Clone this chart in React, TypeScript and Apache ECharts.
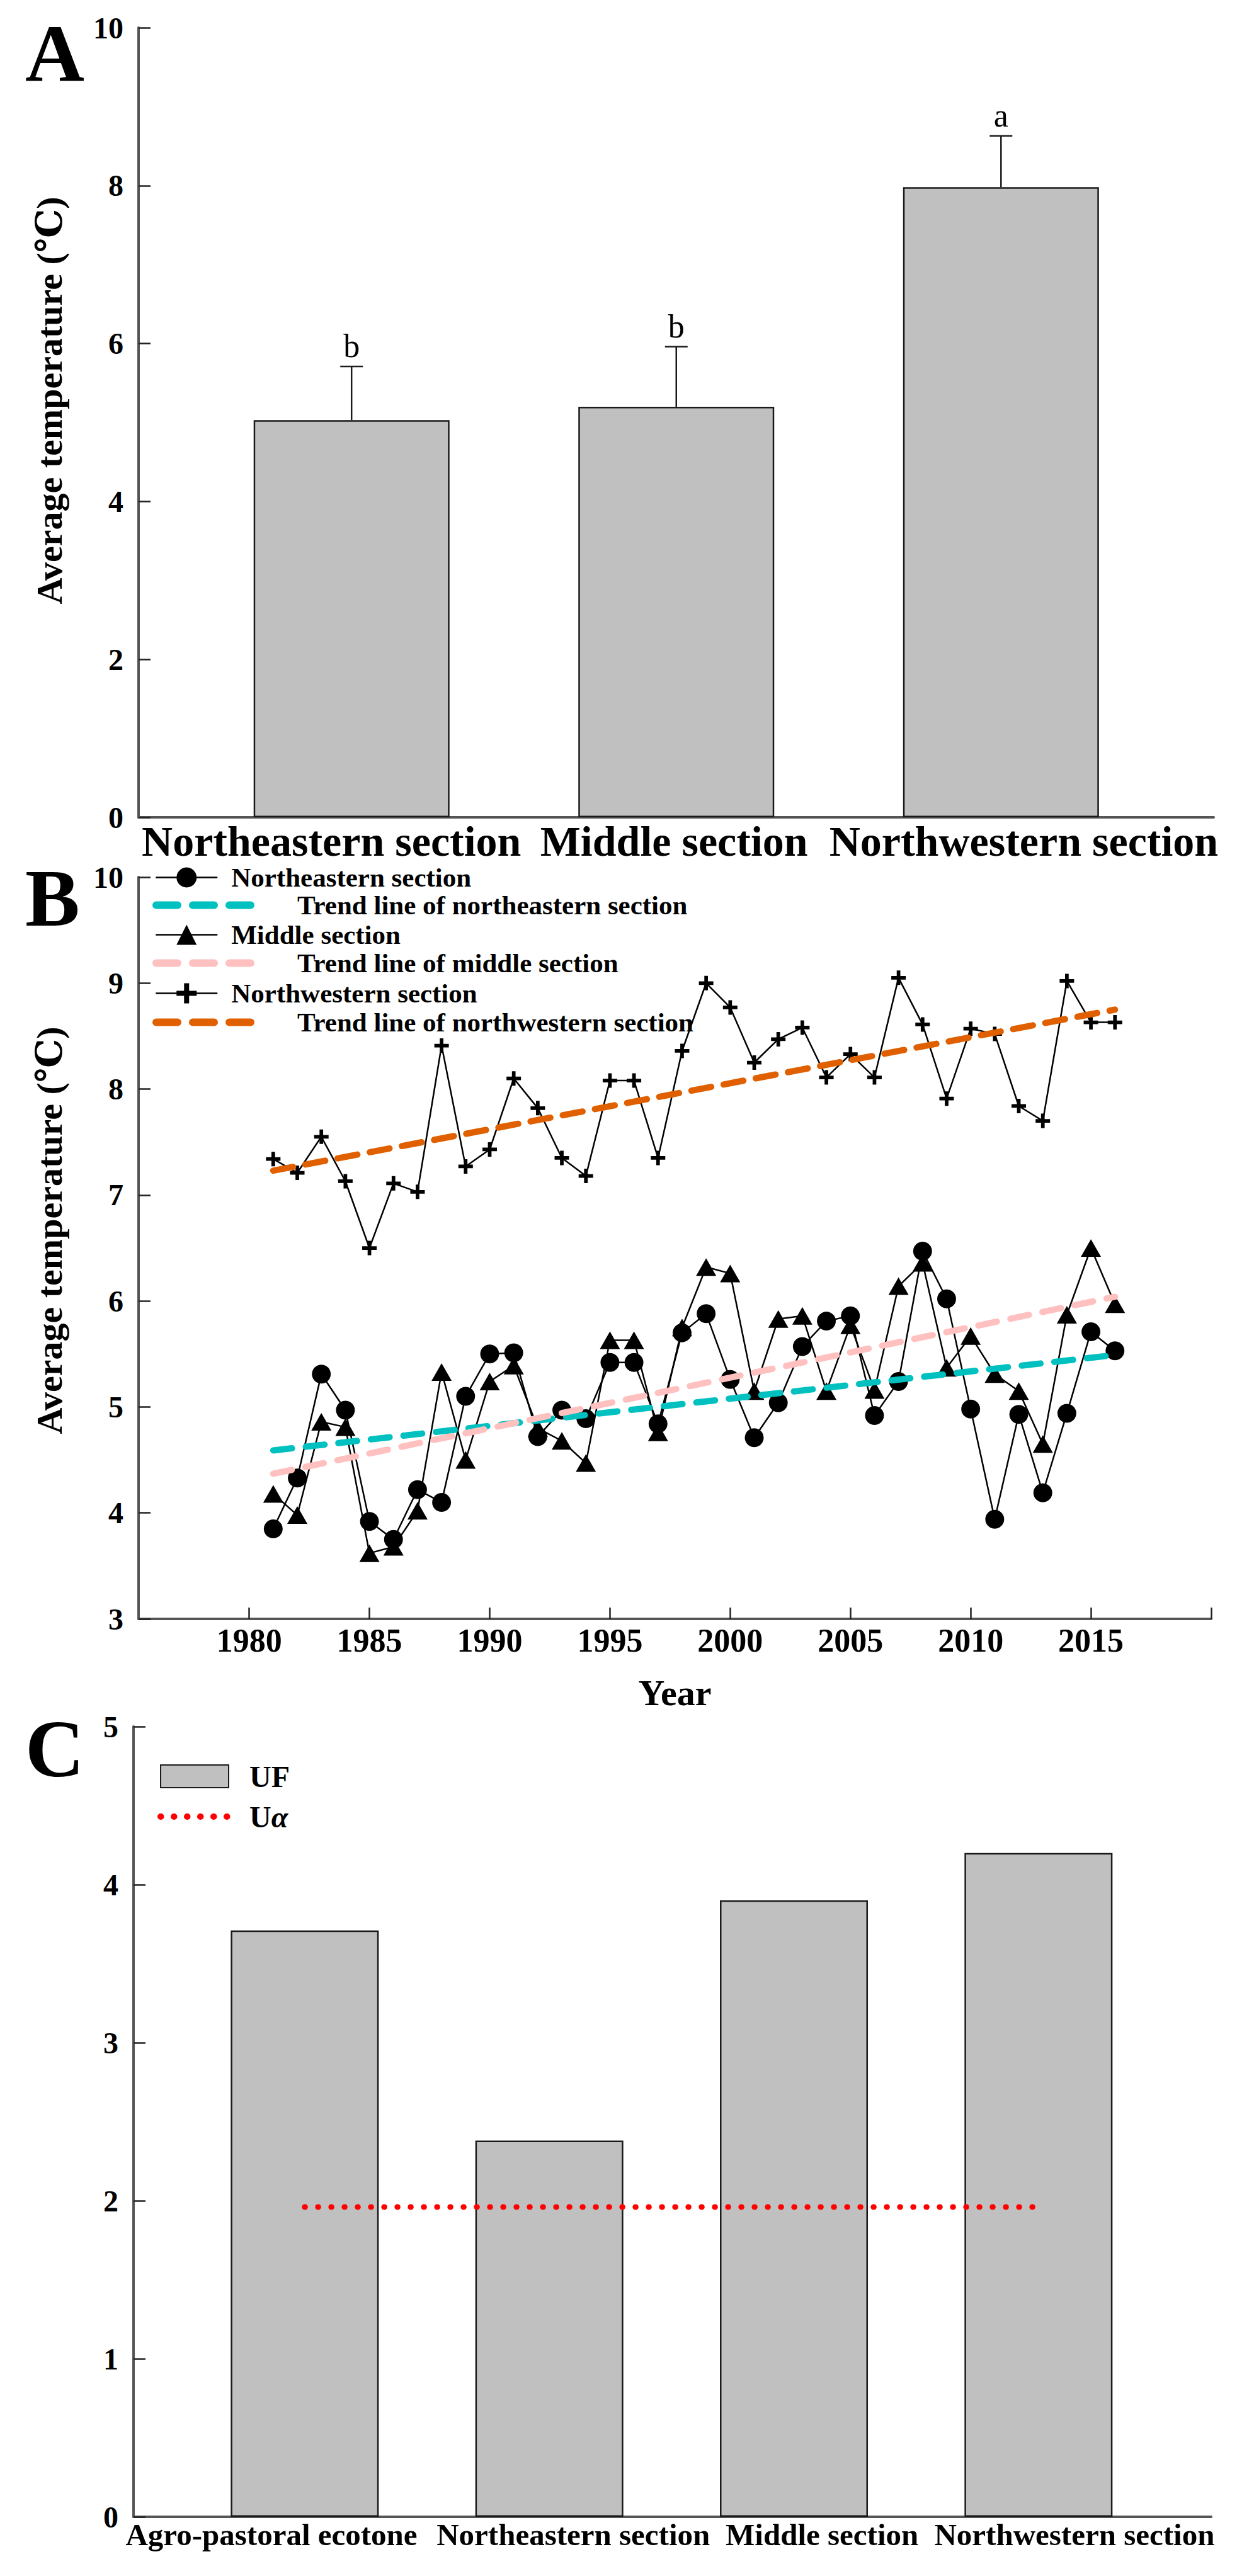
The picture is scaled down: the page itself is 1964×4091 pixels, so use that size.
import React, { useEffect, useRef } from "react";
import * as echarts from "echarts";

const FONT = "'Times New Roman', 'Liberation Serif', 'DejaVu Serif', serif";

// ---------- Panel A data ----------
const sectionsA = ["Northeastern section", "Middle section", "Northwestern section"];
const meanTempA = [5.03, 5.2, 7.98];
const errTopA = [5.71, 5.96, 8.63];
const sigLettersA = ["b", "b", "a"];
const yNameA = "Average temperature (℃)";

// ---------- Panel B data ----------
const years = [
  1981, 1982, 1983, 1984, 1985, 1986, 1987, 1988, 1989, 1990, 1991, 1992,
  1993, 1994, 1995, 1996, 1997, 1998, 1999, 2000, 2001, 2002, 2003, 2004,
  2005, 2006, 2007, 2008, 2009, 2010, 2011, 2012, 2013, 2014, 2015, 2016,
];
const northeastern = [
  3.85, 4.33, 5.31, 4.97, 3.92, 3.75, 4.22, 4.1, 5.1, 5.5, 5.51, 4.72,
  4.97, 4.89, 5.42, 5.42, 4.84, 5.7, 5.88, 5.26, 4.71, 5.04, 5.57, 5.81,
  5.86, 4.92, 5.24, 6.47, 6.02, 4.98, 3.94, 4.93, 4.19, 4.94, 5.71, 5.53,
];
const middle = [
  4.18, 3.98, 4.86, 4.81, 3.62, 3.68, 4.02, 5.33, 4.5, 5.24, 5.39, 4.8,
  4.68, 4.47, 5.63, 5.63, 4.76, 5.75, 6.32, 6.26, 5.15, 5.83, 5.86, 5.15,
  5.77, 5.16, 6.14, 6.36, 5.37, 5.67, 5.31, 5.15, 4.65, 5.87, 6.5, 5.97,
];
const northwestern = [
  7.34, 7.21, 7.55, 7.13, 6.5, 7.11, 7.03, 8.41, 7.27, 7.43, 8.1, 7.82,
  7.35, 7.18, 8.08, 8.08, 7.35, 8.36, 9.0, 8.77, 8.25, 8.47, 8.58, 8.11,
  8.33, 8.11, 9.05, 8.61, 7.91, 8.57, 8.52, 7.84, 7.7, 9.02, 8.63, 8.63,
];
const trendNortheastern = [[1981, 4.59], [2016, 5.49]];
const trendMiddle = [[1981, 4.37], [2016, 6.04]];
const trendNorthwestern = [[1981, 7.23], [2016, 8.75]];
const yearLabels = [1980, 1985, 1990, 1995, 2000, 2005, 2010, 2015];
const yearTicks = [1980, 1985, 1990, 1995, 2000, 2005, 2010, 2015, 2020];
const yNameB = "Average temperature (℃)";

// ---------- Panel C data ----------
const regionsC = ["Agro-pastoral ecotone", "Northeastern section", "Middle section", "Northwestern section"];
const ufValues = [3.71, 2.38, 3.9, 4.2];
const uAlpha = 1.96;

// ---------- layout (pixels / axis positions) ----------
const labelPosA = [0.938, 1.993, 3.07];
const labelPosC = [0.864, 2.098, 3.115, 4.147];

const NAME_NE = "Northeastern section";
const NAME_NE_T = "Trend line of northeastern section";
const NAME_MID = "Middle section";
const NAME_MID_T = "Trend line of middle section";
const NAME_NW = "Northwestern section";
const NAME_NW_T = "Trend line of northwestern section";

const PLUS = "path://M9,0H15V9H24V15H15V24H9V15H0V9H9Z";

const pickLabel = (positions: number[], names: string[]) => (v: number) => {
  let best = 0;
  for (let i = 1; i < positions.length; i++) {
    if (Math.abs(positions[i] - v) < Math.abs(positions[best] - v)) best = i;
  }
  return names[best];
};

const axisLineStyle = { color: "#555", width: 4 };

function buildOption(): any {
  const boldText = { fontFamily: FONT, fontWeight: "bold", color: "#000" };

  const legendB = (name: string, top: number, isTrend: boolean) => ({
    data: [name],
    left: isTrend ? 242 : 246,
    top,
    padding: 0,
    itemWidth: isTrend ? 162 : 98,
    itemHeight: 40,
    selectedMode: false,
    itemStyle: isTrend ? { opacity: 0 } : {},
    lineStyle: isTrend ? { width: 12, type: [34, 24], cap: "round" } : { width: 2.5 },
    textStyle: { ...boldText, fontSize: 43, lineHeight: 42, padding: [0, 0, 0, isTrend ? 57 : 17] },
  });

  const yName = (text: string, y: number) => ({
    type: "text",
    x: 78,
    y,
    rotation: Math.PI / 2,
    style: {
      text,
      align: "center",
      verticalAlign: "middle",
      fontSize: 58,
      fontWeight: "bold",
      fontFamily: FONT,
      fill: "#000",
    },
  });

  const panelLetter = (text: string, y: number) => ({
    type: "text",
    x: 40,
    y,
    style: { text, fontSize: 130, fontWeight: "bold", fontFamily: FONT, fill: "#000", verticalAlign: "middle" },
  });

  return {
    animation: false,
    backgroundColor: "#fff",
    grid: [
      { left: 220, top: 44, width: 1707, height: 1254 },
      { left: 220, top: 1393, width: 1703, height: 1178 },
      { left: 212, top: 2742, width: 1711, height: 1255 },
    ],
    xAxis: [
      {
        gridIndex: 0,
        type: "value",
        min: 0.344,
        max: 3.655,
        splitLine: { show: false },
        axisTick: { show: false },
        axisLine: { show: true, onZero: false, lineStyle: axisLineStyle },
        axisLabel: {
          customValues: labelPosA,
          formatter: pickLabel(labelPosA, sectionsA),
          ...boldText,
          fontSize: 68,
          margin: 4,
        },
      },
      {
        gridIndex: 1,
        type: "value",
        min: 1975.4,
        max: 2020,
        splitLine: { show: false },
        axisLine: { show: true, onZero: false, lineStyle: axisLineStyle },
        axisTick: { show: true, inside: true, length: 18, customValues: yearTicks, lineStyle: { color: "#222", width: 2.5 } },
        axisLabel: { customValues: yearLabels, formatter: (v: number) => String(v), ...boldText, fontSize: 52, margin: 8 },
        name: "Year",
        nameLocation: "middle",
        nameGap: 88,
        nameTextStyle: { ...boldText, fontSize: 58, verticalAlign: "top" },
      },
      {
        gridIndex: 2,
        type: "value",
        min: 0.3,
        max: 4.706,
        splitLine: { show: false },
        axisTick: { show: false },
        axisLine: { show: true, onZero: false, lineStyle: axisLineStyle },
        axisLabel: {
          customValues: labelPosC,
          formatter: pickLabel(labelPosC, regionsC),
          ...boldText,
          fontSize: 49,
          margin: 4,
        },
      },
    ],
    yAxis: [
      {
        gridIndex: 0,
        type: "value",
        min: 0,
        max: 10,
        interval: 2,
        splitLine: { show: false },
        axisLine: { show: true, onZero: false, lineStyle: axisLineStyle },
        axisTick: { show: true, inside: true, length: 19, lineStyle: { color: "#222", width: 2.5 } },
        axisLabel: { ...boldText, fontSize: 48, margin: 24 },
      },
      {
        gridIndex: 1,
        type: "value",
        min: 3,
        max: 10,
        interval: 1,
        splitLine: { show: false },
        axisLine: { show: true, onZero: false, lineStyle: axisLineStyle },
        axisTick: { show: true, inside: true, length: 19, lineStyle: { color: "#222", width: 2.5 } },
        axisLabel: { ...boldText, fontSize: 48, margin: 24 },
      },
      {
        gridIndex: 2,
        type: "value",
        min: 0,
        max: 5,
        interval: 1,
        splitLine: { show: false },
        axisLine: { show: true, onZero: false, lineStyle: axisLineStyle },
        axisTick: { show: true, inside: true, length: 19, lineStyle: { color: "#222", width: 2.5 } },
        axisLabel: { ...boldText, fontSize: 48, margin: 24 },
      },
    ],
    legend: [
      legendB(NAME_NE, 1372, false),
      legendB(NAME_NE_T, 1416, true),
      legendB(NAME_MID, 1463, false),
      legendB(NAME_MID_T, 1508, true),
      legendB(NAME_NW, 1556, false),
      legendB(NAME_NW_T, 1602, true),
      {
        data: [
          { name: "UF", icon: "rect" },
          { name: "Uα", itemStyle: { opacity: 0 }, lineStyle: { width: 10, type: [0.5, 20.5], cap: "round", color: "#ff0000" } },
        ],
        orient: "vertical",
        left: 250,
        top: 2797,
        padding: 0,
        itemWidth: 108,
        itemHeight: 36,
        itemGap: 16,
        selectedMode: false,
        formatter: (name: string) => (name === "Uα" ? "{u|U}{a|α}" : name),
        textStyle: {
          ...boldText,
          fontSize: 48,
          lineHeight: 46,
          padding: [0, 0, 0, 28],
          rich: {
            u: { fontFamily: FONT, fontWeight: "bold", fontSize: 48, color: "#000" },
            a: { fontFamily: FONT, fontStyle: "italic", fontWeight: "bold", fontSize: 48, color: "#000" },
          },
        },
      },
    ],
    graphic: [
      panelLetter("A", 84),
      panelLetter("B", 1426),
      panelLetter("C", 2777),
      yName(yNameA, 636),
      yName(yNameB, 1954),
    ],
    series: [
      // Panel A
      {
        type: "bar",
        xAxisIndex: 0,
        yAxisIndex: 0,
        data: meanTempA.map((v, i) => [i + 1, v]),
        barWidth: 311,
        itemStyle: { color: "#c0c0c0", borderColor: "#1a1a1a", borderWidth: 2.5 },
      },
      {
        type: "custom",
        xAxisIndex: 0,
        yAxisIndex: 0,
        z: 5,
        data: meanTempA.map((v, i) => [i + 1, v, errTopA[i]]),
        renderItem: (params: any, api: any) => {
          const x = api.value(0);
          const base = api.coord([x, api.value(1)]);
          const top = api.coord([x, api.value(2)]);
          const cap = 18;
          const st = { stroke: "#1a1a1a", lineWidth: 2.5 };
          return {
            type: "group",
            children: [
              { type: "line", shape: { x1: base[0], y1: base[1], x2: top[0], y2: top[1] }, style: st },
              { type: "line", shape: { x1: top[0] - cap, y1: top[1], x2: top[0] + cap, y2: top[1] }, style: st },
              {
                type: "text",
                x: top[0],
                y: top[1] - 6,
                style: {
                  text: sigLettersA[params.dataIndex],
                  align: "center",
                  verticalAlign: "bottom",
                  fontSize: 52,
                  fontFamily: FONT,
                  fill: "#000",
                },
              },
            ],
          };
        },
      },
      // Panel B data lines
      {
        name: NAME_NE,
        type: "line",
        xAxisIndex: 1,
        yAxisIndex: 1,
        data: years.map((y, i) => [y, northeastern[i]]),
        symbol: "circle",
        symbolSize: 30,
        lineStyle: { color: "#000", width: 2.5 },
        itemStyle: { color: "#000" },
        z: 3,
      },
      {
        name: NAME_MID,
        type: "line",
        xAxisIndex: 1,
        yAxisIndex: 1,
        data: years.map((y, i) => [y, middle[i]]),
        symbol: "triangle",
        symbolSize: [32, 28],
        lineStyle: { color: "#000", width: 2.5 },
        itemStyle: { color: "#000" },
        z: 3,
      },
      {
        name: NAME_NW,
        type: "line",
        xAxisIndex: 1,
        yAxisIndex: 1,
        data: years.map((y, i) => [y, northwestern[i]]),
        symbol: PLUS,
        symbolSize: 23,
        lineStyle: { color: "#000", width: 2.5 },
        itemStyle: { color: "#000" },
        z: 3,
      },
      // Panel B trend lines
      {
        name: NAME_NE_T,
        type: "line",
        xAxisIndex: 1,
        yAxisIndex: 1,
        data: trendNortheastern,
        symbol: "none",
        lineStyle: { color: "#00c0c0", width: 10, type: [30, 22], cap: "round" },
        itemStyle: { color: "#00c0c0" },
        z: 4,
      },
      {
        name: NAME_MID_T,
        type: "line",
        xAxisIndex: 1,
        yAxisIndex: 1,
        data: trendMiddle,
        symbol: "none",
        lineStyle: { color: "#ffc0c0", width: 10, type: [30, 22], cap: "round" },
        itemStyle: { color: "#ffc0c0" },
        z: 4,
      },
      {
        name: NAME_NW_T,
        type: "line",
        xAxisIndex: 1,
        yAxisIndex: 1,
        data: trendNorthwestern,
        symbol: "none",
        lineStyle: { color: "#e06000", width: 10, type: [32, 20], cap: "round" },
        itemStyle: { color: "#e06000" },
        z: 4,
      },
      // Panel C
      {
        name: "UF",
        type: "bar",
        xAxisIndex: 2,
        yAxisIndex: 2,
        data: ufValues.map((v, i) => [i + 1, v]),
        barWidth: 235,
        itemStyle: { color: "#c0c0c0", borderColor: "#1a1a1a", borderWidth: 2.5 },
      },
      {
        name: "Uα",
        type: "line",
        xAxisIndex: 2,
        yAxisIndex: 2,
        data: [[1, uAlpha], [ufValues.length, uAlpha]],
        symbol: "none",
        lineStyle: { color: "#ff0000", width: 9, type: [0.5, 20.5], cap: "round" },
        itemStyle: { color: "#ff0000" },
        z: 4,
      },
    ],
  };
}

export default function App() {
  const ref = useRef<HTMLDivElement>(null);
  useEffect(() => {
    if (!ref.current) return;
    const chart = echarts.init(ref.current, undefined, { renderer: "svg" });
    chart.setOption(buildOption());
    return () => chart.dispose();
  }, []);
  return (
    <div
      ref={ref}
      style={{ position: "absolute", left: 0, top: 0, width: 1964, height: 4091, background: "#fff" }}
    />
  );
}
